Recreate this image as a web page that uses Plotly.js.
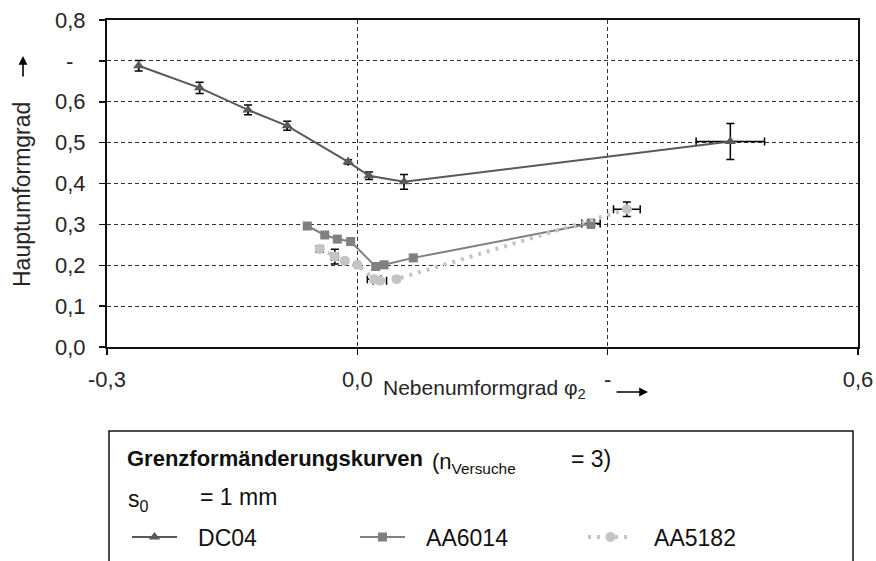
<!DOCTYPE html>
<html>
<head>
<meta charset="utf-8">
<script src="https://cdn.plot.ly/plotly-3.0.1.min.js"></script>
<style>html,body{margin:0;padding:0;background:#fff;}#chart{width:876px;height:561px;}</style>
</head>
<body>
<div id="chart"></div>
<script>
// ---- data ----
const seriesNames = ['DC04', 'AA6014', 'AA5182'];

const xDC04  = [-0.262, -0.189, -0.131, -0.084, -0.011, 0.014, 0.056, 0.447];
const yDC04  = [0.688, 0.634, 0.580, 0.541, 0.453, 0.419, 0.404, 0.503];
const eyDC04 = [0.013, 0.014, 0.012, 0.011, 0.005, 0.009, 0.018, 0.044];
const exDC04 = [0, 0, 0, 0, 0, 0, 0, 0.041];

const xAA6014  = [-0.060, -0.039, -0.024, -0.008, 0.022, 0.032, 0.067, 0.280];
const yAA6014  = [0.296, 0.274, 0.264, 0.258, 0.197, 0.201, 0.218, 0.302];
const eyAA6014 = [0.004, 0.005, 0.004, 0.004, 0.006, 0.004, 0.004, 0.010];
const exAA6014 = [0, 0, 0, 0, 0, 0, 0, 0.011];

const xAA5182  = [-0.045, -0.027, -0.015, 0.000, 0.020, 0.027, 0.047, 0.323];
const yAA5182  = [0.240, 0.221, 0.211, 0.201, 0.166, 0.162, 0.166, 0.337];
const eyAA5182 = [0.007, 0.018, 0.005, 0.004, 0.006, 0.005, 0.005, 0.018];
const exAA5182 = [0.004, 0.004, 0, 0, 0.008, 0.008, 0, 0.016];

const xTickVals = [-0.3, 0.0, 0.3, 0.6];
const xTickText = ['-0,3', '0,0', '-', '0,6'];
const yTickVals = [0.0, 0.1, 0.2, 0.3, 0.4, 0.5, 0.6, 0.7, 0.8];
const yTickText = ['0,0', '0,1', '0,2', '0,3', '0,4', '0,5', '0,6', '-\u00a0\u00a0', '0,8'];

// ---- layout helpers (pixel -> paper) ----
const W = 876, H = 561, ML = 107, MR = 18, MT = 20, MB = 214;
const PW = W - ML - MR, PH = H - MT - MB;
const px = x => (x - ML) / PW;
const py = y => (H - MB - y) / PH;

const FONT = 'Liberation Sans, Arial, sans-serif';
const TXT = '#262626';
const PADNAME = '\u2002\u2009';

function errBar(arr) { return {type: 'data', array: arr, visible: true, color: '#000', thickness: 1.5, width: 4}; }

const traces = [
  {x: xDC04, y: yDC04, name: PADNAME + seriesNames[0], type: 'scatter', mode: 'lines+markers',
   line: {color: '#595959', width: 2},
   marker: {symbol: 'triangle-up', size: 10, color: '#595959'},
   error_y: errBar(eyDC04), error_x: errBar(exDC04)},
  {x: xAA6014, y: yAA6014, name: PADNAME + seriesNames[1], type: 'scatter', mode: 'lines+markers',
   line: {color: '#808080', width: 2},
   marker: {symbol: 'square', size: 9, color: '#808080'},
   error_y: errBar(eyAA6014), error_x: errBar(exAA6014)},
  {x: xAA5182, y: yAA5182, name: PADNAME + seriesNames[2], type: 'scatter', mode: 'lines+markers',
   line: {color: '#c4c4c4', width: 4, dash: '3px,6px'},
   marker: {symbol: 'circle', size: 10, color: '#c4c4c4'},
   error_y: errBar(eyAA5182), error_x: errBar(exAA5182)}
];

const layout = {
  width: W, height: H,
  margin: {l: ML, r: MR, t: MT, b: MB, pad: 0, autoexpand: false},
  paper_bgcolor: '#fff', plot_bgcolor: '#fff',
  font: {family: FONT, size: 22, color: TXT},
  showlegend: true,
  legend: {orientation: 'h', x: px(127), xanchor: 'left', y: py(537), yanchor: 'middle',
           bgcolor: 'rgba(0,0,0,0)', borderwidth: 0, font: {size: 23, color: '#111'},
           itemwidth: 45, entrywidth: 168, entrywidthmode: 'pixels', traceorder: 'normal'},
  xaxis: {range: [-0.3, 0.6], tickvals: xTickVals, ticktext: xTickText,
          showgrid: true, gridcolor: '#333', gridwidth: 1, griddash: '4px,3px',
          zeroline: false, showline: true, linecolor: '#111', linewidth: 2, mirror: true,
          ticks: 'outside', ticklen: 6, tickwidth: 1.5, tickcolor: '#111',
          ticklabelstandoff: 6, tickfont: {size: 22, color: TXT}, fixedrange: true},
  yaxis: {range: [0, 0.8], tickvals: yTickVals, ticktext: yTickText,
          showgrid: true, gridcolor: '#333', gridwidth: 1, griddash: '4px,3px',
          zeroline: false, showline: true, linecolor: '#111', linewidth: 2, mirror: true,
          ticks: 'outside', ticklen: 6, tickwidth: 1.5, tickcolor: '#111',
          ticklabelstandoff: 9, tickfont: {size: 22, color: TXT}, fixedrange: true},
  shapes: [
    {type: 'rect', xref: 'paper', yref: 'paper', x0: px(109), x1: px(853), y0: py(431), y1: py(620),
     line: {color: '#111', width: 1.5}, fillcolor: 'rgba(0,0,0,0)', layer: 'above'}
  ],
  annotations: [
    {xref: 'paper', yref: 'paper', x: px(22), y: py(195), xanchor: 'center', yanchor: 'middle',
     text: 'Hauptumformgrad', textangle: -90, showarrow: false, font: {size: 23, color: TXT}},
    {xref: 'paper', yref: 'paper', x: px(23), y: py(56), ax: 0, ay: 22, text: '',
     showarrow: true, arrowhead: 2, arrowsize: 1.1, arrowwidth: 1.6, arrowcolor: '#000'},
    {xref: 'paper', yref: 'paper', x: px(381), y: py(389), xanchor: 'left', yanchor: 'middle',
     text: 'Nebenumformgrad φ<sub>2</sub>', showarrow: false, font: {size: 21, color: TXT}},
    {xref: 'paper', yref: 'paper', x: px(648), y: py(392), ax: -33, ay: 0, text: '',
     showarrow: true, arrowhead: 2, arrowsize: 1.1, arrowwidth: 1.6, arrowcolor: '#000'},
    {xref: 'paper', yref: 'paper', x: px(125), y: py(459), xanchor: 'left', yanchor: 'middle',
     text: '<b>Grenzformänderungskurven</b>', showarrow: false,
     font: {size: 22, color: '#111'}},
    {xref: 'paper', yref: 'paper', x: px(430), y: py(463), xanchor: 'left', yanchor: 'middle',
     text: '(n<sub>Versuche</sub>', showarrow: false, font: {size: 22, color: '#111'}},
    {xref: 'paper', yref: 'paper', x: px(569), y: py(459), xanchor: 'left', yanchor: 'middle',
     text: '= 3)', showarrow: false, font: {size: 23, color: '#111'}},
    {xref: 'paper', yref: 'paper', x: px(126), y: py(500), xanchor: 'left', yanchor: 'middle',
     text: 's<sub>0</sub>', showarrow: false, font: {size: 23, color: '#111'}},
    {xref: 'paper', yref: 'paper', x: px(198), y: py(497), xanchor: 'left', yanchor: 'middle',
     text: '= 1 mm', showarrow: false, font: {size: 23, color: '#111'}}
  ]
};

Plotly.newPlot('chart', traces, layout, {displayModeBar: false, staticPlot: true});
</script>
</body>
</html>
